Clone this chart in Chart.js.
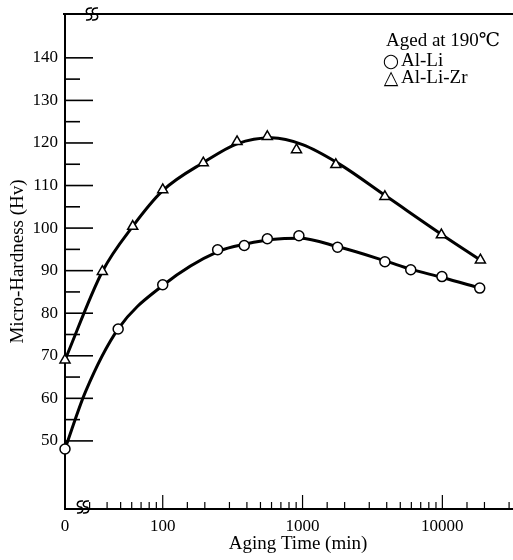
<!DOCTYPE html>
<html>
<head>
<meta charset="utf-8">
<script src="https://cdn.jsdelivr.net/npm/chart.js@4.4.1/dist/chart.umd.min.js"></script>
<style>
  body { margin: 0; background: #fff; }
  #wrap { width: 513px; height: 560px; }
</style>
</head>
<body>
<div id="wrap"><canvas id="hardnessChart"></canvas></div>
<script>
// aging time in minutes, 0 = as quenched (sits at the broken start of the log axis)
const X_ZERO = 20;
const X_MAX = 32000;

const timeZr = [0, 37, 61, 100, 195, 340, 560, 905, 1730, 3880, 9840, 18700];
const hvZr   = [69, 89.8, 100.4, 109, 115.3, 120.3, 121.5, 118.4, 114.9, 107.4, 98.4, 92.5];
const timeLi = [0, 48, 100, 247, 383, 560, 942, 1780, 3880, 5940, 9930, 18500];
const hvLi   = [48.1, 76.3, 86.7, 94.9, 95.9, 97.5, 98.2, 95.5, 92.1, 90.2, 88.6, 85.9];

// the smooth curves drawn through the points
const curveTimeZr = [0, 37, 61, 100, 200, 340, 600, 1000, 1800, 4000, 10000, 18700];
const curveHvZr   = [69, 89.8, 100.4, 108.8, 115.6, 119.8, 121.2, 119.6, 115.2, 107.4, 98.4, 92.5];
const curveTimeLi = [0, 28, 48, 100, 250, 400, 600, 950, 1800, 3900, 6000, 10000, 18500];
const curveHvLi   = [48.1, 61.5, 76.3, 86.5, 94.5, 96.3, 97.3, 97.6, 95.6, 92.3, 90.3, 88.4, 85.9];

const xLabelValues = [0, 100, 1000, 10000];
const yTicks  = [50, 55, 60, 65, 70, 75, 80, 85, 90, 95, 100, 105, 110, 115, 120, 125, 130, 135, 140];
const yLabels = [50, 60, 70, 80, 90, 100, 110, 120, 130, 140];

const SERIF = "'Liberation Serif', 'DejaVu Serif', serif";

function toPoints(times, values) {
  return times.map((t, i) => ({ x: t === 0 ? X_ZERO : t, y: values[i] }));
}

const axisDecor = {
  id: 'axisDecor',
  afterDraw(chart) {
    const { ctx, chartArea: area, scales: { x, y } } = chart;
    ctx.save();
    ctx.strokeStyle = '#000';

    // top frame line
    ctx.lineWidth = 2;
    ctx.beginPath();
    ctx.moveTo(area.left - 2, area.top);
    ctx.lineTo(area.right, area.top);
    ctx.stroke();

    // y tick marks, pointing into the plot
    ctx.lineWidth = 1.6;
    yTicks.forEach(v => {
      const py = y.getPixelForValue(v);
      const len = v % 10 === 0 ? 28 : 15;
      ctx.beginPath();
      ctx.moveTo(area.left, py);
      ctx.lineTo(area.left + len, py);
      ctx.stroke();
    });

    // x tick marks from the log scale
    ctx.lineWidth = 1.2;
    x.ticks.forEach(t => {
      const v = t.value;
      if (v <= X_ZERO || v >= X_MAX) return;
      const px = x.getPixelForValue(v);
      const major = Math.abs(Math.log10(v) - Math.round(Math.log10(v))) < 1e-6;
      ctx.beginPath();
      ctx.moveTo(px, area.bottom);
      ctx.lineTo(px, area.bottom - (major ? 14 : 7));
      ctx.stroke();
    });

    // axis break marks
    ctx.lineWidth = 1.5;
    const brk = (cx, cy) => {
      [-3, 3].forEach(dx => {
        const c = cx + dx;
        ctx.beginPath();
        ctx.moveTo(c + 3, cy - 6);
        ctx.bezierCurveTo(c - 4, cy - 7, c - 4, cy, c, cy);
        ctx.bezierCurveTo(c + 4, cy, c + 4, cy + 7, c - 3, cy + 6);
        ctx.stroke();
      });
    };
    brk(area.left + 27, area.top);
    brk(area.left + 18, area.bottom - 2);

    ctx.fillStyle = '#000';
    ctx.textBaseline = 'alphabetic';

    // x axis title
    ctx.textAlign = 'center';
    ctx.font = '19px ' + SERIF;
    ctx.fillText('Aging Time (min)', 298, 549);

    // legend block
    ctx.textAlign = 'left';
    ctx.fillText('Aged at 190\u2103', 386, 46);
    ctx.fillText('Al-Li', 401, 66);
    ctx.fillText('Al-Li-Zr', 401, 83);
    ctx.textAlign = 'center';
    ctx.font = "19px 'DejaVu Sans'";
    ctx.fillText('\u25CB', 391, 67);
    ctx.fillText('\u25B3', 391, 84);
    ctx.restore();
  }
};

new Chart(document.getElementById('hardnessChart'), {
  type: 'line',
  data: {
    datasets: [
      {
        label: 'Al-Li-Zr',
        data: toPoints(timeZr, hvZr),
        showLine: false,
        pointStyle: 'triangle',
        pointRadius: 5.8,
        pointBackgroundColor: '#fff',
        pointBorderColor: '#000',
        pointBorderWidth: 1.5,
        clip: false,
        order: 0
      },
      {
        label: 'Al-Li',
        data: toPoints(timeLi, hvLi),
        showLine: false,
        pointStyle: 'circle',
        pointRadius: 5,
        pointBackgroundColor: '#fff',
        pointBorderColor: '#000',
        pointBorderWidth: 1.5,
        clip: false,
        order: 0
      },
      {
        label: 'Al-Li-Zr curve',
        data: toPoints(curveTimeZr, curveHvZr),
        borderColor: '#000',
        borderWidth: 3,
        pointRadius: 0,
        cubicInterpolationMode: 'monotone',
        clip: false,
        order: 1
      },
      {
        label: 'Al-Li curve',
        data: toPoints(curveTimeLi, curveHvLi),
        borderColor: '#000',
        borderWidth: 3,
        pointRadius: 0,
        cubicInterpolationMode: 'monotone',
        clip: false,
        order: 1
      }
    ]
  },
  options: {
    responsive: true,
    maintainAspectRatio: false,
    animation: false,
    layout: { autoPadding: false, padding: { top: 14, right: 0, left: 0, bottom: 0 } },
    plugins: {
      legend: { display: false },
      tooltip: { enabled: false }
    },
    scales: {
      x: {
        type: 'logarithmic',
        min: X_ZERO,
        max: X_MAX,
        afterFit(scale) {
          scale.height = 51;
          scale.paddingLeft = 0;
          scale.paddingRight = 0;
        },
        grid: { display: false },
        border: { display: true, color: '#000', width: 2 },
        ticks: {
          autoSkip: false,
          maxRotation: 0,
          padding: -1,
          color: '#000',
          font: { family: SERIF, size: 17 },
          callback: function (value) {
            if (value === X_ZERO) return '0';
            return xLabelValues.includes(value) ? String(value) : '';
          }
        }
      },
      y: {
        min: 34,
        max: 150.3,
        afterFit(scale) { scale.width = 65; },
        afterBuildTicks(scale) { scale.ticks = yLabels.map(v => ({ value: v })); },
        grid: { display: false },
        border: { display: true, color: '#000', width: 2 },
        ticks: {
          autoSkip: false,
          padding: -1,
          color: '#000',
          font: { family: SERIF, size: 17 }
        },
        title: {
          display: true,
          text: 'Micro-Hardness (Hv)',
          color: '#000',
          font: { family: SERIF, size: 19 },
          padding: { top: 7, bottom: 0 }
        }
      }
    }
  },
  plugins: [axisDecor]
});
</script>
</body>
</html>
